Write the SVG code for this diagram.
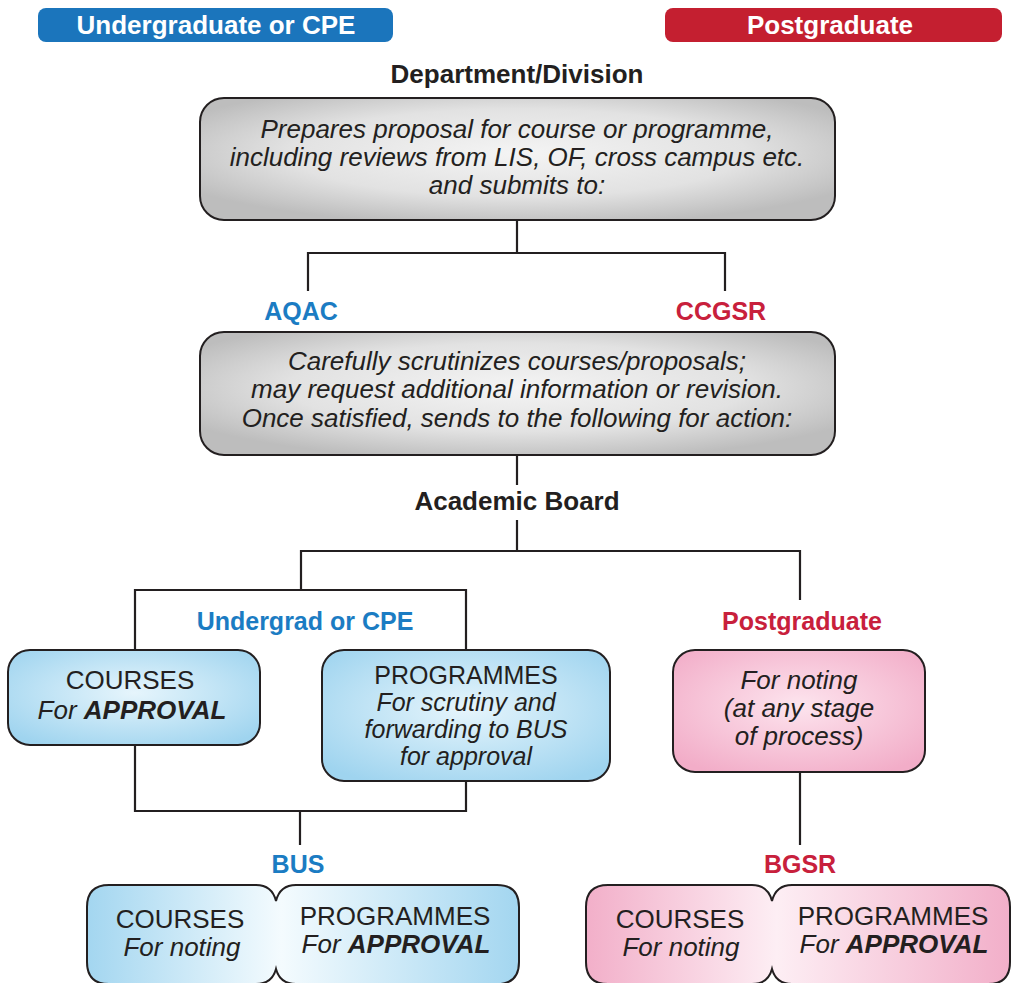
<svg xmlns="http://www.w3.org/2000/svg" width="1012" height="983" viewBox="0 0 1012 983">
<defs>
<radialGradient id="gGrey" cx="50%" cy="45%" r="60%">
<stop offset="0" stop-color="#f4f4f4"/><stop offset="0.6" stop-color="#e2e2e2"/><stop offset="1" stop-color="#bdbdbd"/>
</radialGradient>
<radialGradient id="gBlue" cx="50%" cy="45%" r="65%">
<stop offset="0" stop-color="#e6f5fc"/><stop offset="1" stop-color="#9fd4ef"/>
</radialGradient>
<radialGradient id="gPink" cx="50%" cy="45%" r="65%">
<stop offset="0" stop-color="#fde4ee"/><stop offset="1" stop-color="#f2adc8"/>
</radialGradient>
<linearGradient id="gBlueH" x1="0" y1="0" x2="1" y2="0">
<stop offset="0" stop-color="#a3d6f0"/><stop offset="0.45" stop-color="#f4fbfe"/><stop offset="1" stop-color="#a3d6f0"/>
</linearGradient>
<linearGradient id="gPinkH" x1="0" y1="0" x2="1" y2="0">
<stop offset="0" stop-color="#f2afc9"/><stop offset="0.45" stop-color="#fdeef4"/><stop offset="1" stop-color="#f2afc9"/>
</linearGradient>
</defs>
<style>
text{font-family:"Liberation Sans",Arial,Helvetica,sans-serif;text-anchor:middle}
.hdr{font-weight:bold;font-size:26px;fill:#ffffff}
.lbl{font-weight:bold;font-size:25px;fill:#231f20}
.big{font-size:26px}
.blue{fill:#1b7cc3}
.red{fill:#c8203c}
.body{font-size:26px;font-style:italic;fill:#231f20}
.reg{font-size:26px;fill:#231f20}
.sm{font-size:25px}
.b{font-weight:bold}
.box{stroke:#231f20;stroke-width:2}
.conn{fill:none;stroke:#231f20;stroke-width:2.2}
</style>
<rect width="1012" height="983" fill="#ffffff"/>

<g id="header-ug">
<rect x="38" y="8" width="355" height="34" rx="8" fill="#1b75bc"/>
<text class="hdr" x="216" y="34">Undergraduate or CPE</text>
</g>
<g id="header-pg">
<rect x="665" y="8" width="337" height="34" rx="8" fill="#c41f30"/>
<text class="hdr" x="830" y="34">Postgraduate</text>
</g>

<g id="connectors">
<path class="conn" d="M517 220 V253 M308 291 V253 H725 V291"/>
<path class="conn" d="M517 455 V485"/>
<path class="conn" d="M517 520 V551 M301 590 V551 H800 V600"/>
<path class="conn" d="M135 650 V590 H466 V650"/>
<path class="conn" d="M135 745 V811 H466 V781 M300 811 V845"/>
<path class="conn" d="M800 772 V845"/>
</g>

<g id="dept">
<text class="lbl big" x="517" y="83">Department/Division</text>
<rect class="box" x="200" y="98" width="635" height="122" rx="24" fill="url(#gGrey)"/>
<text class="body" x="517" y="138">Prepares proposal for course or programme,</text>
<text class="body" x="517" y="166">including reviews from LIS, OF, cross campus etc.</text>
<text class="body" x="517" y="194">and submits to:</text>
</g>

<g id="aqac"><text class="lbl blue" x="301" y="320">AQAC</text></g>
<g id="ccgsr"><text class="lbl red" x="721" y="320">CCGSR</text></g>

<g id="scrutiny">
<rect class="box" x="200" y="332" width="635" height="123" rx="24" fill="url(#gGrey)"/>
<text class="body" x="517" y="370">Carefully scrutinizes courses/proposals;</text>
<text class="body" x="517" y="398">may request additional information or revision.</text>
<text class="body" x="517" y="427">Once satisfied, sends to the following for action:</text>
</g>

<g id="academic-board"><text class="lbl big" x="517" y="510">Academic Board</text></g>

<g id="ug-label"><text class="lbl blue" x="305" y="630">Undergrad or CPE</text></g>
<g id="pg-label"><text class="lbl red" x="802" y="630">Postgraduate</text></g>

<g id="ug-courses">
<rect class="box" x="8" y="650" width="252" height="95" rx="22" fill="url(#gBlue)"/>
<text class="reg" x="130" y="689">COURSES</text>
<text class="body" x="132" y="719">For <tspan class="b">APPROVAL</tspan></text>
</g>

<g id="ug-programmes">
<rect class="box" x="322" y="650" width="288" height="131" rx="22" fill="url(#gBlue)"/>
<text class="reg sm" x="466" y="684">PROGRAMMES</text>
<text class="body sm" x="466" y="711">For scrutiny and</text>
<text class="body sm" x="466" y="738">forwarding to BUS</text>
<text class="body sm" x="466" y="765">for approval</text>
</g>

<g id="pg-noting">
<rect class="box" x="673" y="650" width="252" height="122" rx="22" fill="url(#gPink)"/>
<text class="body" x="799" y="689">For noting</text>
<text class="body" x="799" y="717">(at any stage</text>
<text class="body" x="799" y="745">of process)</text>
</g>

<g id="bus">
<text class="lbl blue" x="298" y="873">BUS</text>
<path class="box" fill="url(#gBlueH)" d="M109 885 H256 Q272 885 276 901 Q280 885 296 885 H497 Q519 885 519 907 V962 Q519 984 497 984 H296 Q280 984 276 969 Q272 984 256 984 H109 Q87 984 87 962 V907 Q87 885 109 885 Z"/>
<text class="reg" x="180" y="928">COURSES</text>
<text class="body" x="182" y="956">For noting</text>
<text class="reg" x="395" y="925">PROGRAMMES</text>
<text class="body" x="396" y="953">For <tspan class="b">APPROVAL</tspan></text>
</g>

<g id="bgsr">
<text class="lbl red" x="800" y="873">BGSR</text>
<path class="box" fill="url(#gPinkH)" d="M608 885 H752 Q768 885 772 901 Q776 885 792 885 H988 Q1010 885 1010 907 V962 Q1010 984 988 984 H792 Q776 984 772 969 Q768 984 752 984 H608 Q586 984 586 962 V907 Q586 885 608 885 Z"/>
<text class="reg" x="680" y="928">COURSES</text>
<text class="body" x="681" y="956">For noting</text>
<text class="reg" x="893" y="925">PROGRAMMES</text>
<text class="body" x="894" y="953">For <tspan class="b">APPROVAL</tspan></text>
</g>
</svg>
